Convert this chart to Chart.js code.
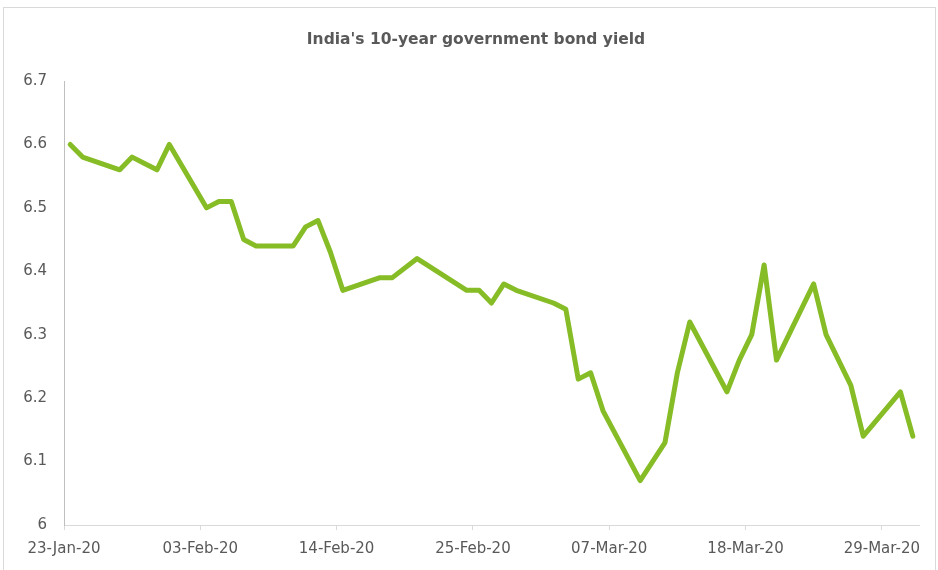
<!DOCTYPE html>
<html>
<head>
<meta charset="utf-8">
<script src="https://cdn.jsdelivr.net/npm/chart.js@4"></script>
<style>
  body { margin: 0; background: #fff; }
  #wrap { position: relative; width: 938px; height: 570px; overflow: hidden; }
  #frame { position: absolute; left: 3px; top: 7px; width: 931px; height: 600px; border: 1px solid #d9d9d9; }
  canvas { position: absolute; left: 0; top: 0; }
</style>
</head>
<body>
<div id="wrap">
  <div id="frame"></div>
  <canvas id="chart" width="938" height="570"></canvas>
</div>
<script>
const dates = [
  '23-Jan-20', '24-Jan-20', '27-Jan-20', '28-Jan-20', '29-Jan-20', '30-Jan-20', '31-Jan-20',
  '03-Feb-20', '04-Feb-20', '05-Feb-20', '06-Feb-20', '07-Feb-20',
  '10-Feb-20', '11-Feb-20', '12-Feb-20', '13-Feb-20', '14-Feb-20',
  '17-Feb-20', '18-Feb-20', '20-Feb-20',
  '24-Feb-20', '25-Feb-20', '26-Feb-20', '27-Feb-20', '28-Feb-20',
  '02-Mar-20', '03-Mar-20', '04-Mar-20', '05-Mar-20', '06-Mar-20',
  '09-Mar-20', '11-Mar-20', '12-Mar-20', '13-Mar-20',
  '16-Mar-20', '17-Mar-20', '18-Mar-20', '19-Mar-20', '20-Mar-20',
  '23-Mar-20', '24-Mar-20', '26-Mar-20', '27-Mar-20',
  '30-Mar-20', '31-Mar-20'
];
const yields = [
  6.60, 6.58, 6.56, 6.58, 6.57, 6.56, 6.60,
  6.50, 6.51, 6.51, 6.45, 6.44,
  6.44, 6.47, 6.48, 6.43, 6.37,
  6.39, 6.39, 6.42,
  6.37, 6.37, 6.35, 6.38, 6.37,
  6.35, 6.34, 6.23, 6.24, 6.18,
  6.07, 6.13, 6.24, 6.32,
  6.21, 6.26, 6.30, 6.41, 6.26,
  6.38, 6.30, 6.22, 6.14,
  6.21, 6.14
];
const tickLabels = ['23-Jan-20', '03-Feb-20', '14-Feb-20', '25-Feb-20', '07-Mar-20', '18-Mar-20', '29-Mar-20'];
const axisStart = '23-Jan-20';
const axisEnd = '01-Apr-20';
const title = "India's 10-year government bond yield";

const months = { Jan: 0, Feb: 1, Mar: 2, Apr: 3 };
function toTime(s) {
  const [d, m, y] = s.split('-');
  return Date.UTC(2000 + Number(y), months[m], Number(d));
}
function dayIndex(s) {
  return Math.round((toTime(s) - toTime(axisStart)) / 86400000);
}

// Excel-style date axis: each point sits in the middle of its day
const points = dates.map((d, i) => ({ x: dayIndex(d) + 0.5, y: yields[i] }));
const tickDays = tickLabels.map(dayIndex);

const grey = '#595959';

// title is centred on the whole frame, not on the plot, so draw it by hand
const titlePlugin = {
  id: 'frameTitle',
  afterDraw(chart) {
    const ctx = chart.ctx;
    ctx.save();
    ctx.font = 'bold 15.5px "DejaVu Sans"';
    ctx.fillStyle = grey;
    ctx.textAlign = 'center';
    ctx.textBaseline = 'middle';
    ctx.fillText(title, 476, 40);
    ctx.restore();
  }
};

new Chart(document.getElementById('chart'), {
  type: 'line',
  data: {
    datasets: [{
      data: points,
      borderColor: '#86bc25',
      borderWidth: 5,
      borderJoinStyle: 'round',
      borderCapStyle: 'round',
      pointRadius: 0,
      tension: 0,
      fill: false
    }]
  },
  plugins: [titlePlugin],
  options: {
    responsive: false,
    animation: false,
    devicePixelRatio: 1,
    layout: { padding: { left: 0, right: 19, top: 81, bottom: 0 } },
    plugins: {
      legend: { display: false },
      tooltip: { enabled: false },
      title: { display: false }
    },
    scales: {
      x: {
        type: 'linear',
        min: 0,
        max: dayIndex(axisEnd),
        afterBuildTicks: s => { s.ticks = tickDays.map(v => ({ value: v })); },
        afterFit: s => { s.height = 45; s.paddingLeft = 0; s.paddingRight = 0; },
        grid: { display: true, drawOnChartArea: false, drawTicks: true, tickLength: 5, color: '#d9d9d9' },
        border: { display: true, color: '#d9d9d9', width: 1 },
        ticks: {
          autoSkip: false,
          maxRotation: 0,
          padding: 10,
          color: grey,
          font: { family: 'DejaVu Sans', size: 15 },
          callback: (v, i) => tickLabels[i]
        }
      },
      y: {
        min: 6,
        max: 6.7,
        afterFit: s => { s.width = 64; s.paddingTop = 0; s.paddingBottom = 0; },
        grid: { display: false, drawTicks: false },
        border: { display: true, color: '#bfbfbf', width: 1 },
        ticks: {
          stepSize: 0.1,
          padding: 17,
          color: grey,
          font: { family: 'DejaVu Sans', size: 15 },
          callback: v => String(Number(v.toFixed(1)))
        }
      }
    }
  }
});
</script>
</body>
</html>
